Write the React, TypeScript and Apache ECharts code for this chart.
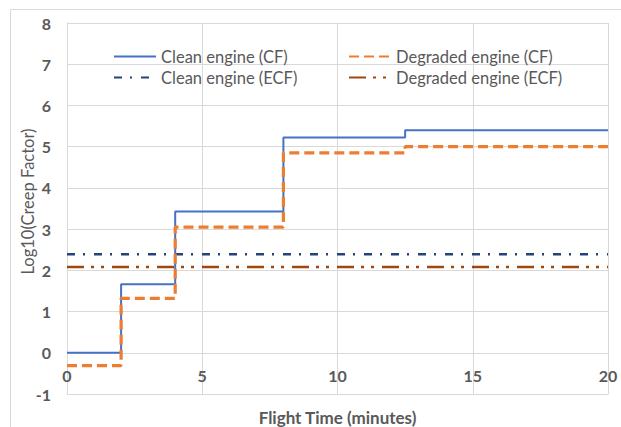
import React, { useEffect, useRef } from "react";
import * as echarts from "echarts";

const cleanCF: [number, number][] = [
  [0, 0], [2, 1.66], [4, 3.43], [8, 5.22], [12.5, 5.4], [20, 5.4],
];
const degradedCF: [number, number][] = [
  [0, -0.31], [2, 1.32], [4, 3.05], [8, 4.85], [12.5, 5.0], [20, 5.0],
];
const cleanECF: [number, number][] = [[0, 2.39], [20, 2.39]];
const degradedECF: [number, number][] = [[0, 2.08], [20, 2.08]];

const seriesNames = [
  "Clean engine (CF)",
  "Degraded engine (CF)",
  "Clean engine (ECF)",
  "Degraded engine (ECF)",
];

const FONT = "Lato";
const GRAY = "#595959";

export default function App() {
  const ref = useRef<HTMLDivElement>(null);
  useEffect(() => {
    if (!ref.current) return;
    const chart = echarts.init(ref.current, undefined, { renderer: "svg" });
    const legendCommon = {
      orient: "vertical",
      top: 48,
      padding: 0,
      itemWidth: 42,
      itemHeight: 12,
      itemGap: 4,
      itemStyle: { opacity: 0 },
      textStyle: { color: GRAY, fontSize: 16.5, fontFamily: FONT, padding: [0, 0, 0, 0] },
    };
    chart.setOption({
      animation: false,
      textStyle: { fontFamily: FONT },
      graphic: [
        {
          type: "rect",
          shape: { x: 10.5, y: 9.5, width: 700, height: 500 },
          style: { fill: "none", stroke: "#d9d9d9", lineWidth: 1 },
          silent: true,
        },
      ],
      grid: {
        left: 67,
        right: 13,
        top: 23,
        bottom: 33,
        containLabel: false,
        outerBoundsMode: "none",
      },
      legend: [
        { ...legendCommon, left: 113, data: [seriesNames[0], seriesNames[2]] },
        { ...legendCommon, left: 348, data: [seriesNames[1], seriesNames[3]] },
      ],
      xAxis: {
        type: "value",
        min: 0,
        max: 20,
        interval: 5,
        name: "Flight Time (minutes)",
        nameLocation: "middle",
        nameGap: 15,
        nameMoveOverlap: false,
        nameTextStyle: { color: GRAY, fontSize: 17, fontWeight: "bold", fontFamily: FONT },
        axisLine: { show: true, onZero: false, lineStyle: { color: "#d9d9d9", width: 1 } },
        axisTick: { show: false },
        axisLabel: { color: GRAY, fontSize: 16, fontWeight: "bold", margin: -27, fontFamily: FONT },
        splitLine: { show: true, lineStyle: { color: "#d9d9d9", width: 1 } },
      },
      yAxis: {
        type: "value",
        min: -1,
        max: 8,
        interval: 1,
        name: "Log10(Creep Factor)",
        nameLocation: "middle",
        nameGap: 31,
        nameMoveOverlap: false,
        nameTextStyle: { color: GRAY, fontSize: 16.5, fontFamily: FONT, padding: [0, 0, 0, 14] },
        axisLine: { show: true, onZero: false, lineStyle: { color: "#d9d9d9", width: 1 } },
        axisTick: { show: false },
        axisLabel: { color: GRAY, fontSize: 16, fontWeight: "bold", margin: 16, fontFamily: FONT },
        splitLine: { show: true, lineStyle: { color: "#d9d9d9", width: 1 } },
      },
      series: [
        {
          name: seriesNames[2],
          type: "line",
          data: cleanECF,
          symbol: "none",
          lineStyle: { color: "#264478", width: 2.5, type: [8, 8, 2, 9] },
          itemStyle: { color: "#264478" },
          z: 2,
        },
        {
          name: seriesNames[3],
          type: "line",
          data: degradedECF,
          symbol: "none",
          lineStyle: { color: "#9E480E", width: 2.5, type: [17, 7, 3, 7, 3, 8] },
          itemStyle: { color: "#9E480E" },
          z: 2,
        },
        {
          name: seriesNames[0],
          type: "line",
          step: "end",
          data: cleanCF,
          symbol: "none",
          lineStyle: { color: "#4472C4", width: 2 },
          itemStyle: { color: "#4472C4" },
          z: 3,
        },
        {
          name: seriesNames[1],
          type: "line",
          step: "end",
          data: degradedCF,
          symbol: "none",
          lineStyle: { color: "#ED7D31", width: 3.2, type: [10, 5] },
          itemStyle: { color: "#ED7D31" },
          z: 4,
        },
      ],
    });
    return () => chart.dispose();
  }, []);
  return (
    <div
      ref={ref}
      style={{ position: "fixed", left: 0, top: 0, width: 621, height: 427, background: "#fff" }}
    />
  );
}
